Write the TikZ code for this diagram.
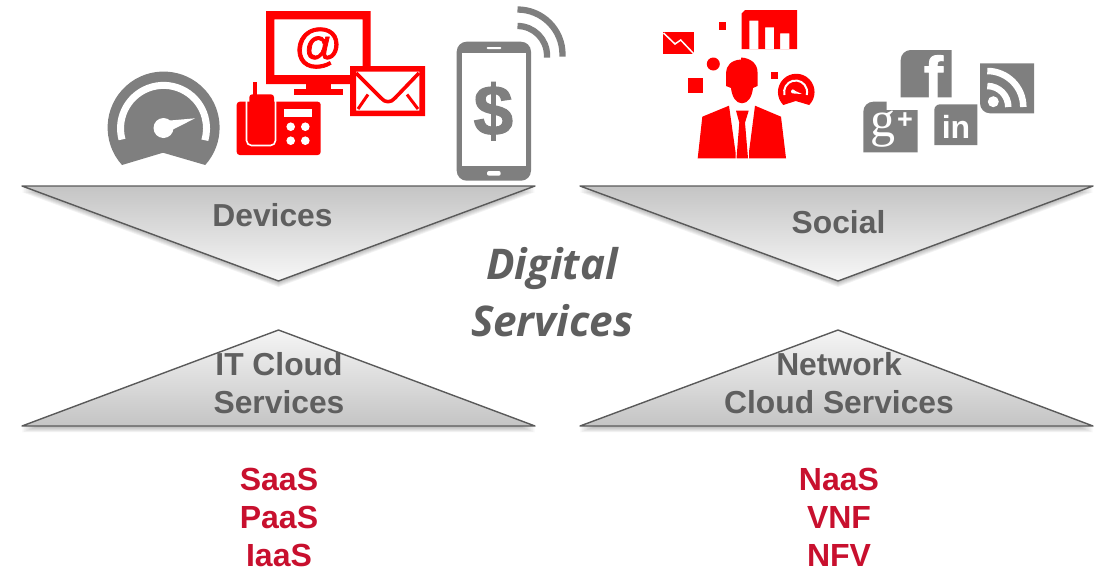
\documentclass[tikz,border=0pt]{standalone}
\usepackage{fontspec}
\setmainfont{Liberation Sans}
\newfontfamily\digifont{Open Sans}
\newfontfamily\gfont{Liberation Serif}
\newfontfamily\heavyfont[FakeBold=1.6]{Liberation Sans Bold}
\definecolor{icongray}{HTML}{7F7F7F}
\definecolor{iconred}{HTML}{FF0000}
\definecolor{labelgray}{HTML}{5F5F5F}
\definecolor{labelred}{HTML}{C8102E}
\definecolor{edgegray}{HTML}{5A5A5A}
\tikzset{
  x=1pt,y=-1pt,
  tri/.style={draw=edgegray,line width=1.4pt,line join=round},
  tridown/.style={tri,top color=black!23,bottom color=black!3},
  triup/.style={tri,top color=black!4,bottom color=black!23},
  trishadow/.style={fill=black,draw=none,opacity=0.05},
  lbl/.style={inner sep=0pt,anchor=base,font=\bfseries\fontsize{31.8}{33}\selectfont,text=labelgray},
  redlbl/.style={inner sep=0pt,anchor=base,font=\bfseries\fontsize{32}{33}\selectfont,text=labelred},
  digi/.style={inner sep=0pt,anchor=base,font=\digifont\bfseries\itshape\fontsize{42.3}{44}\selectfont,text=labelgray},
  rf/.style={fill=iconred,draw=none},
  gf/.style={fill=icongray,draw=none},
  wf/.style={fill=white,draw=none},
  glyph/.style={inner sep=0pt,anchor=base}
}
\begin{document}
\begin{tikzpicture}
\useasboundingbox (0,0) rectangle (1102,568);
% triangles
\foreach \k in {1,2,3,4,5,6}{
  \fill[trishadow] (22,186+\k) -- (535,186+\k) -- (278.5,281+\k) -- cycle;
  \fill[trishadow] (580,186+\k) -- (1093,186+\k) -- (838,281+\k) -- cycle;
  \fill[trishadow] (22,426+\k) -- (535,426+\k) -- (278.5,330+\k) -- cycle;
  \fill[trishadow] (580,426+\k) -- (1093,426+\k) -- (838,330+\k) -- cycle;
}
\path[tridown] (22,186) -- (535,186) -- (278.5,281) -- cycle;
\path[tridown] (580,186) -- (1093,186) -- (838,281) -- cycle;
\path[triup] (22,426) -- (535,426) -- (278.5,330) -- cycle;
\path[triup] (580,426) -- (1093,426) -- (838,330) -- cycle;
% triangle labels
\node[lbl] (devices) at (272.5,226.5) {Devices};
\node[lbl] (social) at (838.5,233.5) {Social};
\node[lbl] (it1) at (279,375.5) {IT Cloud};
\node[lbl] (it2) at (279,413.5) {Services};
\node[lbl] (net1) at (839,375.5) {Network};
\node[lbl] (net2) at (839,413.5) {Cloud Services};
\node[digi] (dig1) at (552,279) {Digital};
\node[digi] (dig2) at (552,336.5) {Services};
\node[redlbl] (saas) at (279,490) {SaaS};
\node[redlbl] (paas) at (279,528.3) {PaaS};
\node[redlbl] (iaas) at (279,566) {IaaS};
\node[redlbl] (naas) at (839,490) {NaaS};
\node[redlbl] (vnf) at (839,528.3) {VNF};
\node[redlbl] (nfv) at (839,566) {NFV};
% gauge
\fill[gf] (122,165) arc[start angle=138,end angle=402,radius=56] -- (163,152.7) -- cycle;
\draw[white,line width=7pt] (122,139.5) arc[start angle=165,end angle=376,radius=43];
\fill[wf] (163.5,128) circle[radius=10];
\fill[wf] (170,120.5) -- (195,118.3) -- (172,130) -- cycle;
% desk phone
\fill[rf,rounded corners=3pt] (236.7,101.7) rectangle (320.7,155);
\draw[white,line width=1.6pt,rounded corners=5pt] (246.5,100) -- (246.5,145.5) -- (275.5,145.5) -- (275.5,100);
\fill[rf,rounded corners=3pt] (249.3,94.3) rectangle (274,142.5);
\fill[rf] (253.3,81.7) rectangle (257.3,95);
\fill[wf] (284,109.3) rectangle (312,116.7);
\foreach \bx in {290.7,305.3}\foreach \by in {126.7,140.7}{\fill[wf] (\bx,\by) circle[radius=4.3];}
% monitor
\fill[rf,even odd rule] (266,11) rectangle (370.7,84) (274.3,19.3) rectangle (362.7,75);
\fill[rf] (306,84) rectangle (330.7,90);
\fill[rf] (294,89.3) rectangle (342.7,95);
\node[glyph,text=iconred,font=\heavyfont\fontsize{47}{49}\selectfont] (at) at (318,61) {@};
% envelope
\fill[wf] (350,66) rectangle (425,116);
\fill[rf,even odd rule] (350,66) rectangle (425,116) (356,71.7) rectangle (419.3,110.7);
\draw[iconred,line width=3.6pt,line join=round] (356,73) -- (381,98) .. controls (385,103) and (391,103) .. (395,98) -- (419,73);
\draw[iconred,line width=3pt] (358,109) -- (368,94.5);
\draw[iconred,line width=3pt] (418,109) -- (407,94.5);
% smartphone
\fill[gf,rounded corners=10pt] (456.7,41.7) rectangle (531,180.7);
\fill[wf] (461.7,53.3) rectangle (525.7,166);
\fill[wf,rounded corners=1pt] (486.7,47) rectangle (501.3,49);
\fill[wf,rounded corners=2pt] (487,171) rectangle (500.7,175.7);
\node[glyph,text=icongray,font=\heavyfont\fontsize{71}{73}\selectfont] (dollar) at (493.3,135) {\$};
\draw[icongray,line width=6.3pt] (517.5,9.5) arc[start angle=270,end angle=360,radius=45] -- ++(0,2);
\draw[icongray,line width=6.3pt] (517.5,26) arc[start angle=270,end angle=360,radius=29.5] -- ++(0,2);
% person group
\fill[rf] (663.3,32.3) rectangle (694,54.3);
\draw[white,line width=1.5pt] (663.5,33) -- (675,44) -- (680.7,40) -- (694,54);
\fill[rf] (719,22.3) rectangle (726.3,29.7);
\fill[rf,even odd rule,rounded corners=0pt] (745,10) -- (797,10) -- (797,49) -- (741.7,49) -- (741.7,13.5) -- cycle
  (749.3,20.7) rectangle (758.3,49) (765,27.3) rectangle (774,49) (780,33.3) rectangle (789.3,49);
\fill[rf] (713.3,64) circle[radius=6.5];
\fill[rf] (688.3,77.7) rectangle (703.3,92.7);
\fill[rf] (770.7,71.7) rectangle (778,79);
\fill[rf] (783.3,105) arc[start angle=135,end angle=405,radius=18.3] -- (795.7,101) -- cycle;
\draw[white,line width=2pt] (784.5,95) arc[start angle=165,end angle=375,radius=11.5];
\fill[wf] (793,91.5) circle[radius=2];
\fill[wf] (792,89.5) -- (802,94) -- (794,93.5) -- cycle;
\fill[rf] (741,57.5) .. controls (751,58) and (757.5,64) .. (757.5,72) -- (757.5,86) -- (753,88)
  .. controls (752,97) and (748,103.3) .. (742,103.3) .. controls (736,103.3) and (732,97) .. (731,88)
  -- (726,86) -- (726,73) .. controls (726,66) and (731,60) .. (741,59.5) -- cycle;
\fill[rf] (697.7,158.3) -- (702.3,116.7) -- (729,105.7) -- (735.5,152) -- (735.5,158.3) -- cycle;
\fill[rf] (786,158.3) -- (781,116.7) -- (755,105.7) -- (749,152) -- (749,158.3) -- cycle;
\fill[rf] (736,110.7) -- (748.7,110.7) -- (745,122.7) -- (748,158.3) -- (736.5,158.3) -- (739.3,122.7) -- cycle;
% facebook
\fill[gf] (900.7,97.3) -- (900.7,60) arc[start angle=180,end angle=270,radius=10] -- (951.7,50) -- (951.7,97.3) -- cycle;
\begin{scope}
\clip (900.7,50) rectangle (951.7,97.3);
\node[glyph,text=white,font=\heavyfont\fontsize{58}{60}\selectfont] (f) at (933.5,97.3) {f};
\end{scope}
% rss
\fill[gf] (980,63.3) -- (1034,63.3) -- (1034,113.3) -- (990,113.3) arc[start angle=90,end angle=180,radius=10] -- cycle;
\fill[wf] (993.3,101.7) circle[radius=5.5];
\draw[white,line width=6.5pt] (987.3,86) arc[start angle=270,end angle=360,radius=21];
\draw[white,line width=6.5pt] (987.3,71) arc[start angle=270,end angle=360,radius=36];
% linkedin
\fill[gf] (934.3,145) -- (934.3,110) arc[start angle=180,end angle=270,radius=5.7] -- (977.3,104.3) -- (977.3,145) -- cycle;
\node[glyph,text=white,font=\bfseries\fontsize{32}{34}\selectfont] (in) at (956,138.3) {in};
% google plus
\fill[gf] (863.3,152.3) -- (863.3,111.7) arc[start angle=180,end angle=270,radius=10] -- (886.7,101.7) -- (886.7,110) -- (917.7,110) -- (917.7,152.3) -- cycle;
\node[glyph,text=white,font=\gfont\fontsize{50}{52}\selectfont] (g) at (882.7,136) {g};
\node[glyph,text=white,font=\bfseries\fontsize{27}{28}\selectfont] (plus) at (905,128.5) {+};
\end{tikzpicture}
\end{document}
